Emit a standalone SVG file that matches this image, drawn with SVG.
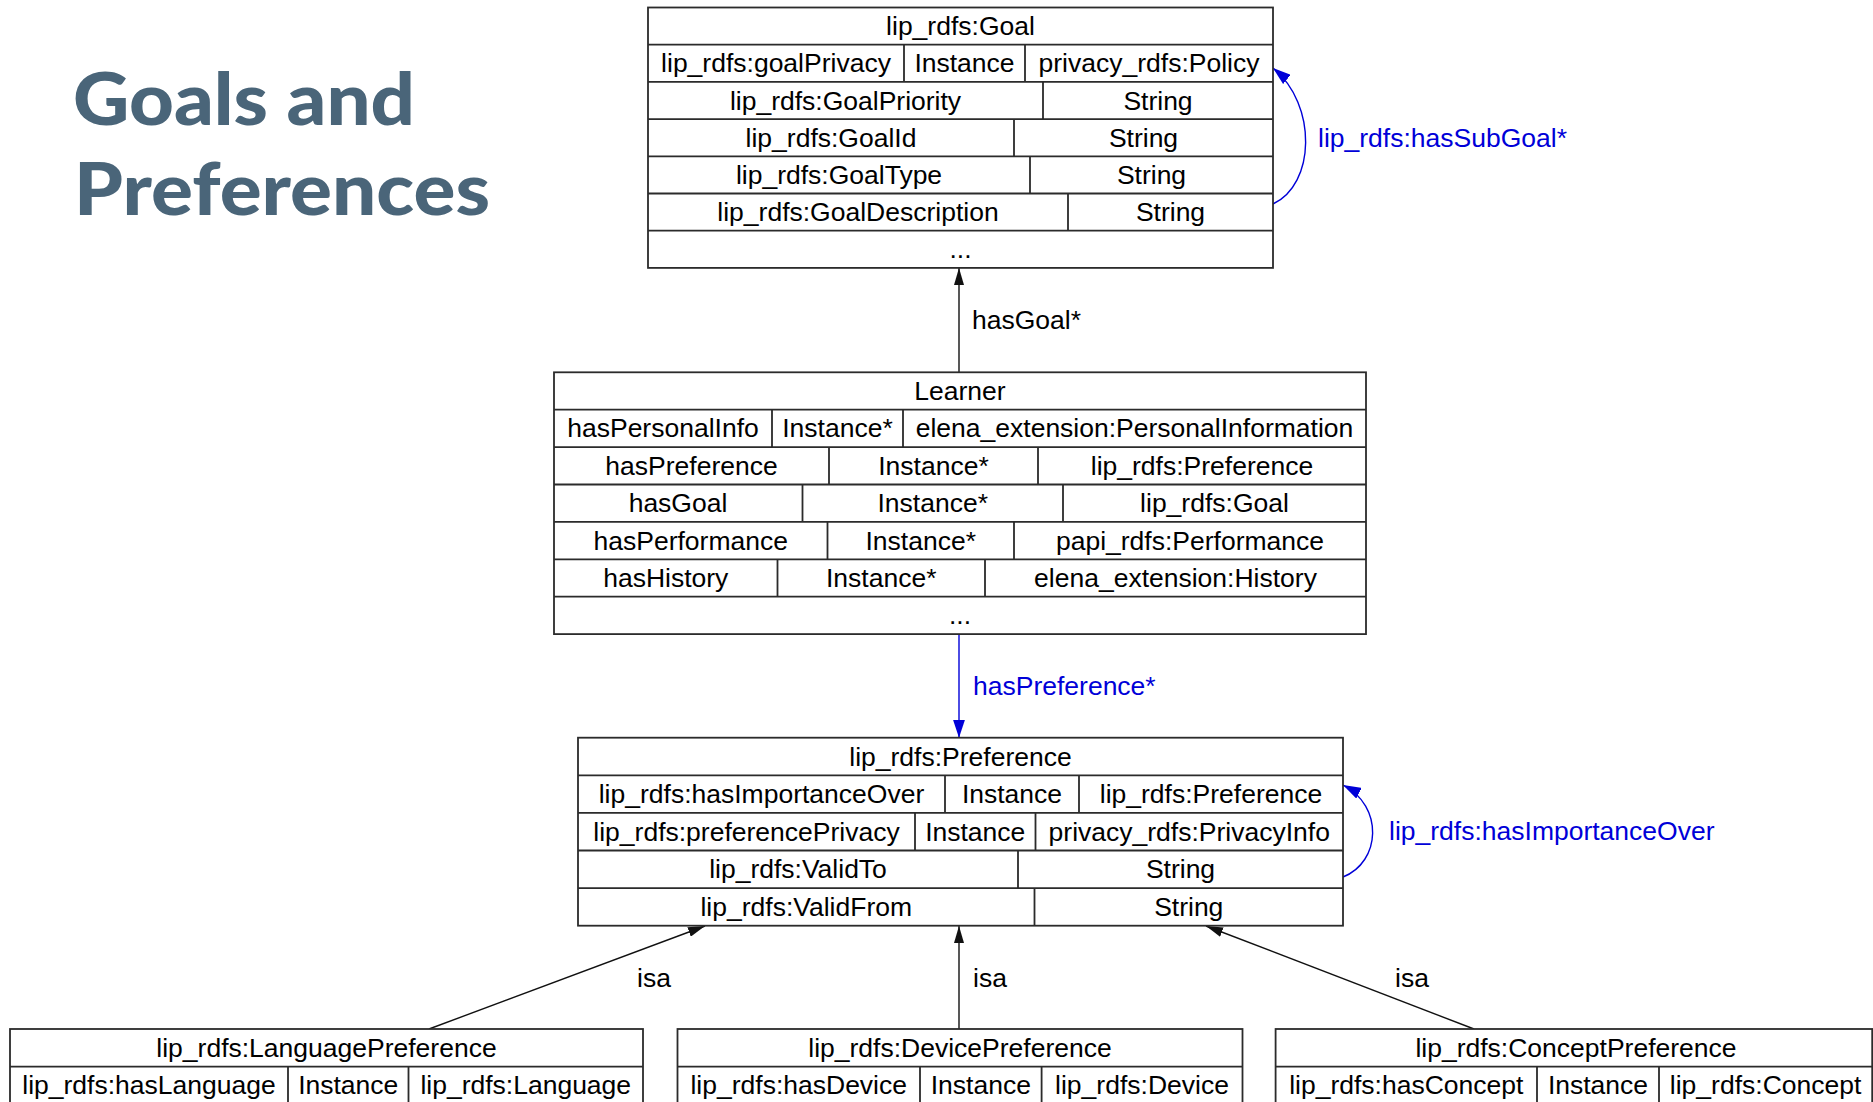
<svg xmlns="http://www.w3.org/2000/svg" width="1873" height="1102" viewBox="0 0 1873 1102">
  <style>
    .box { fill: #ffffff; stroke: #2b2b2b; stroke-width: 1.8; }
    .grid { fill: none; stroke: #2b2b2b; stroke-width: 1.8; }
    .t { font-family: "Liberation Sans", Arial, sans-serif; font-size: 26.5px; fill: #000000; text-anchor: middle; }
    .lbl { font-family: "Liberation Sans", Arial, sans-serif; font-size: 26.5px; fill: #000000; }
    .blue { fill: #0000d8; }
    .edge { fill: none; stroke: #111111; stroke-width: 1.4; }
    .edge-blue { fill: none; stroke: #0000d8; stroke-width: 1.4; }
    .title { font-family: Lato, "Open Sans", sans-serif; font-weight: 900; font-size: 72px; fill: #4a6579; }
  </style>
  <defs>
    <marker id="arrow" markerUnits="userSpaceOnUse" markerWidth="17" markerHeight="10" refX="17" refY="5" orient="auto">
      <path d="M0,0 L17,5 L0,10 z" fill="#111111"/>
    </marker>
    <marker id="arrow-blue" markerUnits="userSpaceOnUse" markerWidth="18" markerHeight="12" refX="18" refY="6" orient="auto">
      <path d="M0,0 L18,6 L0,12 z" fill="#0000d8"/>
    </marker>
  </defs>

  <rect width="1873" height="1102" fill="#ffffff"/>

  <!-- slide heading -->
  <g id="heading">
    <text class="title" x="73" y="125" textLength="342" lengthAdjust="spacingAndGlyphs">Goals and</text>
    <text class="title" x="74" y="215" textLength="416" lengthAdjust="spacingAndGlyphs">Preferences</text>
  </g>

  <!-- connectors -->
  <g id="connectors">
    <path class="edge" d="M959,372.3 L959,268" marker-end="url(#arrow)"/>
    <text class="lbl" x="972" y="329">hasGoal*</text>

    <path class="edge-blue" d="M959,634.1 L959,737.7" marker-end="url(#arrow-blue)"/>
    <text class="lbl blue" x="973" y="695">hasPreference*</text>

    <path class="edge-blue" d="M1273,204 C1315,185 1318,105 1273,68" marker-end="url(#arrow-blue)"/>
    <text class="lbl blue" x="1318" y="147">lip_rdfs:hasSubGoal*</text>

    <path class="edge-blue" d="M1343,877 C1381,862 1384,806 1343,785" marker-end="url(#arrow-blue)"/>
    <text class="lbl blue" x="1389" y="840">lip_rdfs:hasImportanceOver</text>

    <path class="edge" d="M429,1029 L705,926" marker-end="url(#arrow)"/>
    <text class="lbl" x="637" y="987">isa</text>
    <path class="edge" d="M959,1029 L959,926" marker-end="url(#arrow)"/>
    <text class="lbl" x="973" y="987">isa</text>
    <path class="edge" d="M1474,1029 L1206,926" marker-end="url(#arrow)"/>
    <text class="lbl" x="1395" y="987">isa</text>
  </g>

  <!-- lip_rdfs:Goal -->
  <g id="goal">
    <rect class="box" x="648" y="7.5" width="625" height="260.4"/>
    <path class="grid" d="M648,44.7 H1273 M648,81.9 H1273 M648,119.1 H1273 M648,156.3 H1273 M648,193.5 H1273 M648,230.7 H1273
      M904,44.7 V81.9 M1025,44.7 V81.9 M1043,81.9 V119.1 M1014,119.1 V156.3 M1030,156.3 V193.5 M1068,193.5 V230.7"/>
    <text class="t" x="960.5" y="35.1">lip_rdfs:Goal</text>
    <text class="t" x="776" y="72.3">lip_rdfs:goalPrivacy</text>
    <text class="t" x="964.5" y="72.3">Instance</text>
    <text class="t" x="1149" y="72.3">privacy_rdfs:Policy</text>
    <text class="t" x="845.5" y="109.5">lip_rdfs:GoalPriority</text>
    <text class="t" x="1158" y="109.5">String</text>
    <text class="t" x="831" y="146.7">lip_rdfs:GoalId</text>
    <text class="t" x="1143.5" y="146.7">String</text>
    <text class="t" x="839" y="183.9">lip_rdfs:GoalType</text>
    <text class="t" x="1151.5" y="183.9">String</text>
    <text class="t" x="858" y="221.1">lip_rdfs:GoalDescription</text>
    <text class="t" x="1170.5" y="221.1">String</text>
    <text class="t" x="960.5" y="258.3">...</text>
  </g>

  <!-- Learner -->
  <g id="learner">
    <rect class="box" x="554" y="372.3" width="812" height="261.8"/>
    <path class="grid" d="M554,409.7 H1366 M554,447.1 H1366 M554,484.5 H1366 M554,521.9 H1366 M554,559.3 H1366 M554,596.7 H1366
      M772,409.7 V447.1 M903,409.7 V447.1
      M829,447.1 V484.5 M1038,447.1 V484.5
      M802.5,484.5 V521.9 M1063,484.5 V521.9
      M827.5,521.9 V559.3 M1014,521.9 V559.3
      M777.5,559.3 V596.7 M985,559.3 V596.7"/>
    <text class="t" x="960" y="400">Learner</text>
    <text class="t" x="663" y="437.4">hasPersonalInfo</text>
    <text class="t" x="837.5" y="437.4">Instance*</text>
    <text class="t" x="1134.5" y="437.4">elena_extension:PersonalInformation</text>
    <text class="t" x="691.5" y="474.8">hasPreference</text>
    <text class="t" x="933.5" y="474.8">Instance*</text>
    <text class="t" x="1202" y="474.8">lip_rdfs:Preference</text>
    <text class="t" x="678" y="512.2">hasGoal</text>
    <text class="t" x="932.75" y="512.2">Instance*</text>
    <text class="t" x="1214.5" y="512.2">lip_rdfs:Goal</text>
    <text class="t" x="690.75" y="549.6">hasPerformance</text>
    <text class="t" x="920.75" y="549.6">Instance*</text>
    <text class="t" x="1190" y="549.6">papi_rdfs:Performance</text>
    <text class="t" x="665.75" y="587">hasHistory</text>
    <text class="t" x="881.25" y="587">Instance*</text>
    <text class="t" x="1175.5" y="587">elena_extension:History</text>
    <text class="t" x="960" y="624.4">...</text>
  </g>

  <!-- lip_rdfs:Preference -->
  <g id="preference">
    <rect class="box" x="578" y="737.7" width="765" height="188"/>
    <path class="grid" d="M578,775.3 H1343 M578,812.9 H1343 M578,850.5 H1343 M578,888.1 H1343
      M945,775.3 V812.9 M1079,775.3 V812.9
      M915,812.9 V850.5 M1035.5,812.9 V850.5
      M1018,850.5 V888.1 M1034.5,888.1 V925.7"/>
    <text class="t" x="960.5" y="765.5">lip_rdfs:Preference</text>
    <text class="t" x="761.5" y="803.1">lip_rdfs:hasImportanceOver</text>
    <text class="t" x="1012" y="803.1">Instance</text>
    <text class="t" x="1211" y="803.1">lip_rdfs:Preference</text>
    <text class="t" x="746.5" y="840.7">lip_rdfs:preferencePrivacy</text>
    <text class="t" x="975.25" y="840.7">Instance</text>
    <text class="t" x="1189.25" y="840.7">privacy_rdfs:PrivacyInfo</text>
    <text class="t" x="798" y="878.3">lip_rdfs:ValidTo</text>
    <text class="t" x="1180.5" y="878.3">String</text>
    <text class="t" x="806.25" y="915.9">lip_rdfs:ValidFrom</text>
    <text class="t" x="1188.75" y="915.9">String</text>
  </g>

  <!-- lip_rdfs:LanguagePreference -->
  <g id="language-preference">
    <rect class="box" x="10" y="1029" width="633" height="113"/>
    <path class="grid" d="M10,1066.6 H643 M288,1066.6 V1142 M408.5,1066.6 V1142"/>
    <text class="t" x="326.5" y="1056.8">lip_rdfs:LanguagePreference</text>
    <text class="t" x="149" y="1094.4">lip_rdfs:hasLanguage</text>
    <text class="t" x="348.25" y="1094.4">Instance</text>
    <text class="t" x="525.75" y="1094.4">lip_rdfs:Language</text>
  </g>

  <!-- lip_rdfs:DevicePreference -->
  <g id="device-preference">
    <rect class="box" x="677.5" y="1029" width="565" height="113"/>
    <path class="grid" d="M677.5,1066.6 H1242.5 M920,1066.6 V1142 M1041.6,1066.6 V1142"/>
    <text class="t" x="960" y="1056.8">lip_rdfs:DevicePreference</text>
    <text class="t" x="798.75" y="1094.4">lip_rdfs:hasDevice</text>
    <text class="t" x="980.8" y="1094.4">Instance</text>
    <text class="t" x="1142" y="1094.4">lip_rdfs:Device</text>
  </g>

  <!-- lip_rdfs:ConceptPreference -->
  <g id="concept-preference">
    <rect class="box" x="1275.6" y="1029" width="596.6" height="113"/>
    <path class="grid" d="M1275.6,1066.6 H1872.2 M1537,1066.6 V1142 M1659,1066.6 V1142"/>
    <text class="t" x="1576" y="1056.8">lip_rdfs:ConceptPreference</text>
    <text class="t" x="1406.3" y="1094.4">lip_rdfs:hasConcept</text>
    <text class="t" x="1598" y="1094.4">Instance</text>
    <text class="t" x="1765.6" y="1094.4">lip_rdfs:Concept</text>
  </g>
</svg>
